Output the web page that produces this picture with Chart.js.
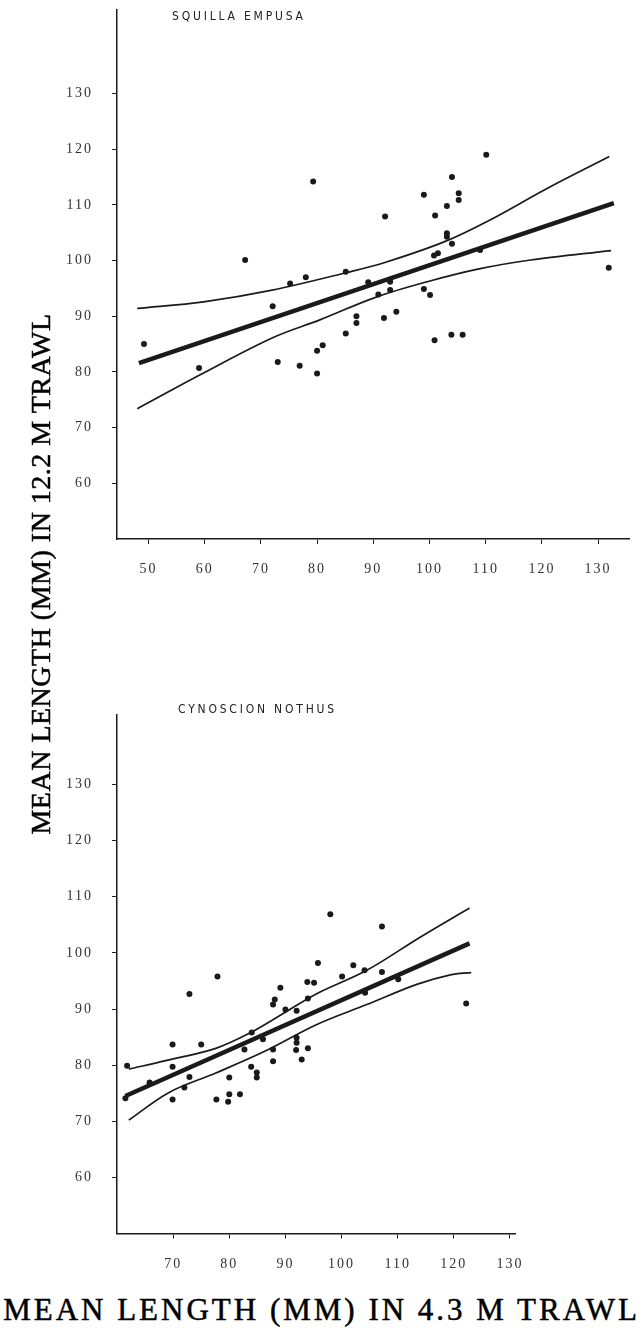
<!DOCTYPE html>
<html>
<head>
<meta charset="utf-8">
<script src="https://cdn.jsdelivr.net/npm/chart.js@4.4.1/dist/chart.umd.min.js"></script>
<style>
  html, body { margin: 0; padding: 0; background: #fff; }
  body { width: 643px; height: 1332px; position: relative; overflow: hidden; }
  .box { position: absolute; left: 0; width: 643px; }
  #topBox { top: 0; height: 590px; }
  #bottomBox { top: 705px; height: 580px; }
  .species {
    position: absolute;
    font-family: "Liberation Sans Narrow", "DejaVu Sans Condensed", sans-serif;
    font-size: 12px; letter-spacing: 2.8px; color: #222; white-space: nowrap;
  }
  #yTitle {
    position: absolute; left: -239px; top: 557px; width: 560px; height: 34px;
    line-height: 34px; text-align: center; white-space: nowrap;
    transform: rotate(-90deg); transform-origin: 50% 50%;
    font-family: "Liberation Serif", serif; font-size: 28px; letter-spacing: 0.5px; color: #000;
    -webkit-text-stroke: 0.5px #000;
  }
  #xTitle {
    position: absolute; left: 0; top: 1292px; width: 643px; height: 36px;
    line-height: 36px; text-align: center; white-space: nowrap;
    font-family: "Liberation Serif", serif; font-size: 31px; letter-spacing: 3px; color: #000;
    -webkit-text-stroke: 0.5px #000;
  }
</style>
</head>
<body>
<div class="box" id="topBox"><canvas id="squilla"></canvas></div>
<div class="box" id="bottomBox"><canvas id="cynoscion"></canvas></div>
<div class="species" style="left:172px; top:9px;">SQUILLA EMPUSA</div>
<div class="species" style="left:178px; top:702px;">CYNOSCION NOTHUS</div>
<div id="yTitle">MEAN LENGTH (MM) IN 12.2 M TRAWL</div>
<div id="xTitle">MEAN LENGTH (MM) IN 4.3 M TRAWL</div>

<script>
// Squilla empusa: mean length in 4.3 m trawl (x) vs 12.2 m trawl (y)
const squillaX = [110.1, 79.3, 104.0, 99.0, 105.2, 105.2, 103.1, 101.0, 92.1, 103.1, 103.1, 104.0,
  100.8, 101.5, 109.0, 67.2, 131.9, 78.0, 85.1, 75.2, 89.1, 93.0, 90.9, 93.0, 99.0, 100.1, 72.1,
  49.2, 87.0, 87.0, 91.9, 94.1, 85.1, 100.9, 103.9, 105.9, 80.0, 81.0, 73.0, 76.9, 80.0, 59.0];
const squillaY = [119.0, 114.2, 115.0, 111.8, 112.1, 110.9, 109.8, 108.1, 107.9, 104.9, 104.3, 103.0,
  100.9, 101.3, 101.9, 100.1, 98.7, 97.0, 98.0, 95.9, 96.1, 96.2, 93.9, 94.7, 94.9, 93.8, 91.8,
  85.0, 90.0, 88.8, 89.7, 90.8, 86.9, 85.7, 86.7, 86.7, 83.8, 84.8, 81.8, 81.1, 79.7, 80.7];
const squillaFitX = [48.3, 132.8];
const squillaFitY = [81.6, 110.3];
const squillaUpperX = [48.0, 59.8, 72.0, 85.5, 92.2, 102.7, 110.6, 121.0, 132.0];
const squillaUpperY = [91.4, 92.6, 94.7, 97.9, 99.7, 103.4, 107.2, 113.0, 118.7];
const squillaLowerX = [48.0, 59.2, 72.0, 80.6, 90.4, 99.6, 108.8, 118.0, 132.3];
const squillaLowerY = [73.4, 79.5, 86.1, 89.4, 93.4, 96.2, 98.5, 100.1, 101.8];
const squillaXTicks = [50, 60, 70, 80, 90, 100, 110, 120, 130];
const squillaYTicks = [60, 70, 80, 90, 100, 110, 120, 130];

// Cynoscion nothus
const cynoX = [95.8, 102.1, 104.1, 107.2, 100.1, 110.1, 77.9, 93.9, 95.1, 72.9, 89.1, 94.0, 88.1, 87.8,
  104.2, 90.0, 92.0, 122.2, 84.0, 69.9, 75.0, 86.0, 92.0, 92.0, 91.9, 94.0, 82.7, 87.8, 92.9, 87.8,
  61.8, 69.9, 83.9, 72.9, 80.0, 84.9, 84.9, 65.8, 72.0, 61.5, 69.9, 77.7, 80.0, 79.8, 81.9, 98.0, 107.2];
const cynoY = [98.2, 97.8, 96.9, 96.6, 95.8, 95.3, 95.8, 94.8, 94.7, 92.7, 93.8, 91.9, 91.7, 90.8,
  92.9, 89.9, 89.7, 91.0, 85.8, 83.7, 83.7, 84.6, 84.9, 84.0, 82.7, 83.0, 82.8, 82.8, 81.0, 80.7,
  79.9, 79.7, 79.7, 77.9, 77.8, 78.7, 77.8, 76.9, 76.0, 74.1, 73.9, 73.9, 74.8, 73.5, 74.8, 106.9, 104.7];
const cynoFitX = [61.5, 122.8];
const cynoFitY = [74.5, 101.7];
const cynoUpperX = [62.1, 68.7, 77.6, 83.6, 89.6, 95.5, 104.5, 114.0, 122.8];
const cynoUpperY = [79.3, 80.8, 83.0, 85.7, 89.2, 92.7, 96.9, 102.8, 108.0];
const cynoLowerX = [62.1, 69.2, 77.6, 86.6, 95.5, 104.5, 113.4, 119.4, 123.1];
const cynoLowerY = [70.2, 75.1, 78.6, 82.6, 87.2, 90.8, 94.4, 96.1, 96.5];
const cynoXTicks = [70, 80, 90, 100, 110, 120, 130];
const cynoYTicks = [60, 70, 80, 90, 100, 110, 120, 130];

const ink = '#1a1a1a';
const pairs = (xs, ys) => xs.map((x, i) => ({ x: x, y: ys[i] }));

// canvas letter spacing for the tick numbers
const spacedLabels = {
  id: 'spacedLabels',
  beforeDraw(chart) { chart.ctx.letterSpacing = '2px'; },
  afterDraw(chart) { chart.ctx.letterSpacing = '0px'; }
};

function makeChart(id, d) {
  const tickFont = { family: "'Liberation Serif', 'Times New Roman', serif", size: 14 };
  new Chart(document.getElementById(id), {
    type: 'scatter',
    data: {
      datasets: [
        { type: 'line', data: pairs(d.fitX, d.fitY), borderColor: ink, borderWidth: 4.5, pointRadius: 0, fill: false },
        { type: 'line', data: pairs(d.upX, d.upY), borderColor: ink, borderWidth: 1.7, pointRadius: 0, fill: false, tension: 0.35 },
        { type: 'line', data: pairs(d.loX, d.loY), borderColor: ink, borderWidth: 1.7, pointRadius: 0, fill: false, tension: 0.35 },
        { data: pairs(d.x, d.y), backgroundColor: ink, borderColor: ink, pointRadius: 3, borderWidth: 0 }
      ]
    },
    options: {
      responsive: true,
      maintainAspectRatio: false,
      animation: false,
      layout: { padding: { top: 10, right: d.padRight, left: 0, bottom: 0 } },
      plugins: { legend: { display: false }, tooltip: { enabled: false } },
      scales: {
        x: {
          type: 'linear', min: d.xMin, max: d.xMax,
          afterBuildTicks: s => { s.ticks = d.xTicks.map(v => ({ value: v })); },
          afterFit: s => { s.height = d.xHeight; s.paddingLeft = 0; s.paddingRight = 0; },
          border: { display: true, color: ink, width: 1.5 },
          grid: { drawOnChartArea: false, drawTicks: true, tickLength: 5, color: ink },
          ticks: { font: tickFont, color: '#333', padding: 17, maxRotation: 0 }
        },
        y: {
          type: 'linear', min: 50, max: d.yMax,
          afterBuildTicks: s => { s.ticks = d.yTicks.map(v => ({ value: v })); },
          afterFit: s => { s.width = 117; s.paddingTop = 0; s.paddingBottom = 0; },
          border: { display: true, color: ink, width: 1.5 },
          grid: { drawOnChartArea: false, drawTicks: true, tickLength: 5, color: ink },
          ticks: { font: tickFont, color: '#333', padding: 19 }
        }
      }
    },
    plugins: [spacedLabels]
  });
}

makeChart('squilla', {
  x: squillaX, y: squillaY, fitX: squillaFitX, fitY: squillaFitY,
  upX: squillaUpperX, upY: squillaUpperY, loX: squillaLowerX, loY: squillaLowerY,
  xTicks: squillaXTicks, yTicks: squillaYTicks,
  xMin: 44.4, xMax: 135.5, yMax: 145, padRight: 14, xHeight: 51
});

makeChart('cynoscion', {
  x: cynoX, y: cynoY, fitX: cynoFitX, fitY: cynoFitY,
  upX: cynoUpperX, upY: cynoUpperY, loX: cynoLowerX, loY: cynoLowerY,
  xTicks: cynoXTicks, yTicks: cynoYTicks,
  xMin: 60, xMax: 130.9, yMax: 142.4, padRight: 128, xHeight: 51.5
});
</script>
</body>
</html>
